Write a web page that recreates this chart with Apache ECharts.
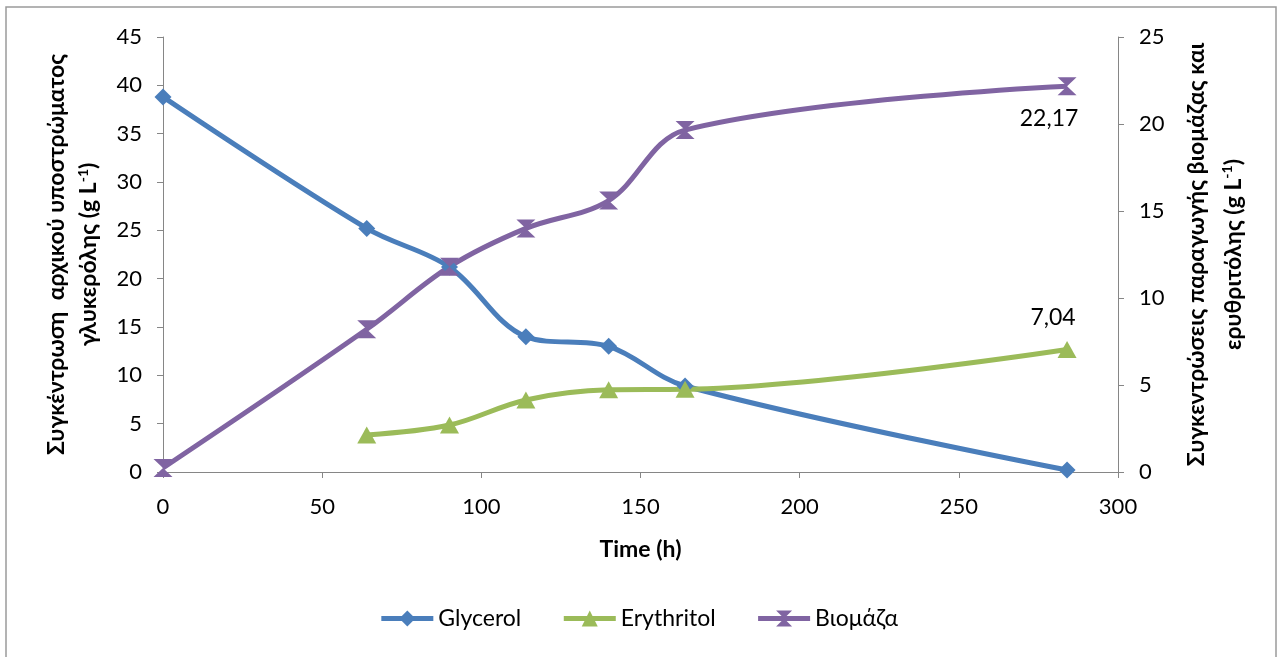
<!DOCTYPE html>
<html><head><meta charset="utf-8">
<script src="https://cdn.jsdelivr.net/npm/echarts@6/dist/echarts.min.js"></script>
<style>html,body{margin:0;padding:0;background:#fff}#c{width:1277px;height:657px}</style>
</head><body><div id="c"></div>
<script>
const timeH = [0, 64, 90, 114, 140, 164, 284];
const glycerol = [38.8, 25.2, 21.2, 14.0, 13.0, 8.9, 0.2];
const erythritolTime = [64, 90, 114, 140, 164, 284];
const erythritol = [2.13, 2.7, 4.14, 4.72, 4.75, 7.04];
const biomass = [0.23, 8.2, 11.8, 14.0, 15.6, 19.65, 22.17];
const xTicks = [0, 50, 100, 150, 200, 250, 300];
const leftTicks = [0, 5, 10, 15, 20, 25, 30, 35, 40, 45];
const rightTicks = [0, 5, 10, 15, 20, 25];

const FONT = 'Lato';
const hourglass = 'path://M0,0 L10,0 L5,5 L10,10 L0,10 L5,5 Z';
const lastIdx = timeH.length - 1;
const fmtComma = v => String(v).replace('.', ',');

const chart = echarts.init(document.getElementById('c'), null, {renderer: 'canvas'});
const axisLine = {show: true, lineStyle: {color: '#868686', width: 1}};
const tick = {show: true, length: 6, lineStyle: {color: '#868686'}};
const lbl = {color: '#000', fontFamily: FONT, fontSize: 22};

function nameStyle(lh) {
  return {
    fontFamily: FONT, fontSize: 23, fontWeight: 'bold', color: '#000', lineHeight: lh,
    rich: {
      t: {fontFamily: FONT, fontSize: 23, fontWeight: 'bold', color: '#000', lineHeight: lh},
      s: {fontFamily: FONT, fontSize: 14, fontWeight: 'bold', color: '#000', lineHeight: lh, padding: [0, 0, 12, 0]}
    }
  };
}

chart.setOption({
  animation: false,
  backgroundColor: '#fff',
  graphic: [{type: 'rect', shape: {x: 6, y: 7, width: 1270, height: 660}, style: {fill: 'none', stroke: '#9a9a9a', lineWidth: 1.5}, silent: true}],
  grid: {left: 163, right: 159, top: 37, bottom: 185},
  xAxis: {
    type: 'value', min: xTicks[0], max: xTicks[xTicks.length - 1], interval: 50,
    name: 'Time (h)', nameLocation: 'middle', nameGap: 66,
    nameTextStyle: {fontFamily: FONT, fontSize: 23, fontWeight: 'bold', color: '#000'},
    axisLine, axisTick: tick, splitLine: {show: false},
    axisLabel: Object.assign({margin: 24}, lbl)
  },
  yAxis: [{
    type: 'value', min: leftTicks[0], max: leftTicks[leftTicks.length - 1], interval: 5,
    position: 'left',
    name: '{t|Συγκέντρωση  αρχικού υποστρώματος}\n{t|γλυκερόλης (g L}{s|-1}{t|)}',
    nameLocation: 'middle', nameGap: 58, nameRotate: 90,
    nameTextStyle: nameStyle(32),
    axisLine, axisTick: tick, splitLine: {show: false},
    axisLabel: Object.assign({margin: 21}, lbl)
  }, {
    type: 'value', min: rightTicks[0], max: rightTicks[rightTicks.length - 1], interval: 5,
    position: 'right',
    name: '{t|Συγκεντρώσεις παραγωγής βιομάζας και}\n{t|ερυθριτόλης (g L}{s|-1}{t|)}',
    nameLocation: 'middle', nameGap: 60, nameRotate: 90,
    nameTextStyle: nameStyle(37),
    axisLine, axisTick: tick, splitLine: {show: false},
    axisLabel: Object.assign({margin: 21}, lbl)
  }],
  legend: {
    bottom: 22, left: 'center', itemWidth: 52, itemHeight: 20, itemGap: 40,
    lineStyle: {width: 5},
    textStyle: {fontFamily: FONT, fontSize: 23, color: '#000'},
    data: ['Glycerol', 'Erythritol', 'Βιομάζα']
  },
  series: [{
    name: 'Glycerol', type: 'line', yAxisIndex: 0, smooth: 0.35,
    data: timeH.map((t, i) => [t, glycerol[i]]),
    symbol: 'diamond', symbolSize: 17,
    lineStyle: {color: '#4A7EBB', width: 5}, itemStyle: {color: '#4A7EBB'}
  }, {
    name: 'Erythritol', type: 'line', yAxisIndex: 1, smooth: 0.35,
    data: erythritolTime.map((t, i) => [t, erythritol[i]]),
    symbol: 'triangle', symbolSize: [19, 17],
    lineStyle: {color: '#9BBB59', width: 5}, itemStyle: {color: '#9BBB59'},
    label: {show: true, position: 'top', distance: 12, offset: [-14, 0], fontFamily: FONT, fontSize: 23, color: '#000',
      formatter: p => p.dataIndex === erythritol.length - 1 ? fmtComma(erythritol[p.dataIndex]) : ''}
  }, {
    name: 'Βιομάζα', type: 'line', yAxisIndex: 1, smooth: 0.35,
    data: timeH.map((t, i) => [t, biomass[i]]),
    symbol: hourglass, symbolSize: [19, 18],
    lineStyle: {color: '#8064A2', width: 5}, itemStyle: {color: '#8064A2'},
    label: {show: true, position: 'bottom', distance: 12, offset: [-18, 0], fontFamily: FONT, fontSize: 23, color: '#000',
      formatter: p => p.dataIndex === lastIdx ? fmtComma(biomass[p.dataIndex]) : ''}
  }]
});
</script></body></html>
